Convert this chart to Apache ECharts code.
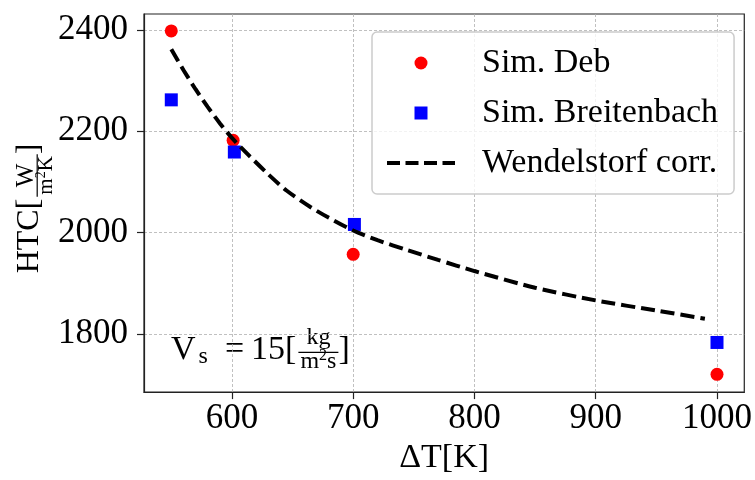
<!DOCTYPE html>
<html><head><meta charset="utf-8">
<script src="https://cdn.jsdelivr.net/npm/echarts@6/dist/echarts.min.js"></script>
<style>html,body{margin:0;padding:0;background:#fff}#c{width:755px;height:480px}</style>
</head><body><div id="c"></div>
<script>
// ---- data ----
const xTicks = [600, 700, 800, 900, 1000];
const yTicks = [1800, 2000, 2200, 2400];
const debX = [550, 601, 700, 1000];
const debY = [2398, 2182, 1957, 1720];
const breitX = [550, 602, 701, 1000];
const breitY = [2262, 2159, 2016, 1783];
const corrX = [550, 560, 570, 580, 590, 600, 615, 630, 645, 665, 680, 700, 720, 745, 770, 800, 850, 900, 950, 990];
const corrY = [2362, 2321, 2283, 2248, 2216, 2187, 2150, 2115, 2083, 2050, 2029, 2004, 1985, 1965, 1946, 1924, 1891, 1866, 1846, 1830];
const seriesNames = ['Sim. Deb', 'Sim. Breitenbach', 'Wendelstorf corr.'];

// ---- text layout helpers (for math-like labels) ----
const FONT = 'Liberation Serif';
const cv = document.createElement('canvas').getContext('2d');
function tw(t, s) { cv.font = s + 'px "' + FONT + '"'; return cv.measureText(t).width; }
function txt(x, base, t, s) {
  return { type: 'text', x: x, y: base - 0.34 * s,
    style: { text: t, fontSize: s, fontFamily: FONT, fill: '#000', align: 'left', verticalAlign: 'middle' } };
}
function seq(pieces, x0, base) {
  let x = x0; const els = [];
  pieces.forEach(p => {
    if (p.gap !== undefined) { x += p.gap; return; }
    if (p.frac) {
      const n = seq(p.frac[0], 0, 0), d = seq(p.frac[1], 0, 0);
      const wn = n.x, wd = d.x, w = Math.max(wn, wd) + 4;
      els.push(...seq(p.frac[0], x + (w - wn) / 2, base + p.numDy).els);
      els.push(...seq(p.frac[1], x + (w - wd) / 2, base + p.denDy).els);
      els.push({ type: 'line', shape: { x1: x, y1: base + p.ruleDy, x2: x + w, y2: base + p.ruleDy },
        style: { stroke: '#000', lineWidth: 1.2 } });
      x += w; return;
    }
    els.push(txt(x, base + (p.dy || 0), p.t, p.s));
    x += tw(p.t, p.s);
  });
  return { els: els, x: x };
}

const annPieces = [
  { t: 'V', s: 34 }, { gap: 3 }, { t: 's', s: 24, dy: 4 }, { gap: 17 }, { t: '=', s: 34 }, { gap: 7 },
  { t: '15[', s: 34 }, { gap: 2 },
  { frac: [[{ t: 'kg', s: 24 }], [{ t: 'm', s: 24 }, { t: '2', s: 16, dy: -9 }, { t: 's', s: 24 }]], numDy: -15, denDy: 9, ruleDy: -9 },
  { t: ']', s: 34 }
];
const ylabPieces = [
  { t: 'HTC[', s: 32 }, { gap: 2 },
  { frac: [[{ t: 'W', s: 25 }], [{ t: 'm', s: 21 }, { t: '2', s: 14, dy: -8 }, { t: 'K', s: 21 }]], numDy: -6, denDy: 13, ruleDy: -3.5 },
  { t: ']', s: 32 }
];

const chart = echarts.init(document.getElementById('c'), null, { renderer: 'canvas' });
const axisCommon = {
  axisLine: { show: true, lineStyle: { color: '#222', width: 1.2 } },
  axisTick: { show: true, inside: false, length: 7, lineStyle: { color: '#222', width: 1.2 } },
  splitLine: { show: true, lineStyle: { color: '#b0b0b0', width: 0.8, type: [3, 2] } },
  axisLabel: { color: '#000', fontSize: 35, fontFamily: FONT, formatter: v => String(v) }
};
chart.setOption({
  animation: false,
  grid: { left: 144, right: 5, top: 14, bottom: 87, show: true, borderColor: '#222', borderWidth: 1.2, backgroundColor: 'transparent' },
  xAxis: Object.assign({}, axisCommon, {
    type: 'value', min: 527.5, max: 1022.5,
    name: 'ΔT[K]', nameLocation: 'middle', nameGap: 42,
    nameTextStyle: { fontSize: 34, fontFamily: FONT, color: '#000' },
    axisTick: Object.assign({}, axisCommon.axisTick, { customValues: xTicks }),
    axisLabel: Object.assign({}, axisCommon.axisLabel, { customValues: xTicks, margin: 9 })
  }),
  yAxis: Object.assign({}, axisCommon, {
    type: 'value', min: 1685, max: 2431.5,
    axisTick: Object.assign({}, axisCommon.axisTick, { customValues: yTicks }),
    axisLabel: Object.assign({}, axisCommon.axisLabel, { customValues: yTicks, margin: 16 })
  }),
  legend: {
    orient: 'vertical', left: 372, top: 32,
    padding: [14, 16, 14, 13], itemGap: 16, itemWidth: 68, itemHeight: 13,
    backgroundColor: 'rgba(255,255,255,0.8)', borderColor: '#cccccc', borderWidth: 1.5, borderRadius: 5,
    textStyle: { fontSize: 34, fontFamily: FONT, color: '#000', lineHeight: 31, padding: [0, 0, 0, 22] },
    data: [
      { name: seriesNames[0], icon: 'circle' },
      { name: seriesNames[1], icon: 'path://M0,0L1,0L1,1L0,1Z' },
      { name: seriesNames[2], itemStyle: { opacity: 0 }, lineStyle: { width: 4, type: [13, 5.5], color: '#000' } }
    ]
  },
  series: [
    { name: seriesNames[0], type: 'scatter', symbol: 'circle', symbolSize: 13, itemStyle: { color: '#ff0000', opacity: 1 },
      data: debX.map((x, i) => [x, debY[i]]), z: 3 },
    { name: seriesNames[1], type: 'scatter', symbol: 'rect', symbolSize: 13, itemStyle: { color: '#0000ff', opacity: 1 },
      data: breitX.map((x, i) => [x, breitY[i]]), z: 3 },
    { name: seriesNames[2], type: 'line', symbol: 'none', smooth: 0.25,
      lineStyle: { color: '#000', width: 4, type: [14, 6] }, itemStyle: { color: '#000' },
      data: corrX.map((x, i) => [x, corrY[i]]), z: 4 }
  ],
  graphic: [
    { type: 'group', x: 171, y: 361.3, children: seq(annPieces, 0, 0).els },
    { type: 'group', x: 40.7, y: 273.3, rotation: Math.PI / 2, children: seq(ylabPieces, 0, 0).els }
  ]
});
</script></body></html>
